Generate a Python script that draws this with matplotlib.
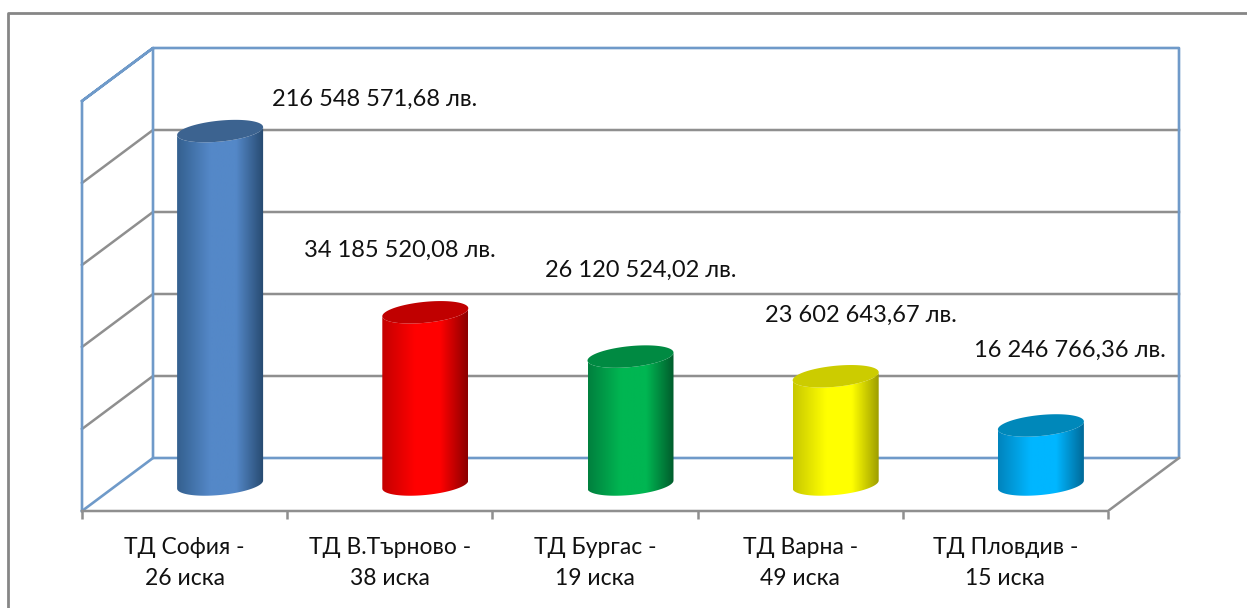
"""Cylinder chart of claims per territorial directorate, drawn on a plain 2D axes."""
import matplotlib
matplotlib.use("Agg")
import matplotlib.pyplot as plt
import numpy as np
from matplotlib.colors import LinearSegmentedColormap
from matplotlib.patches import Polygon

plt.rcParams["font.family"] = ["Lato", "Open Sans", "DejaVu Sans"]

categories = ["ТД София -\n26 иска", "ТД В.Търново -\n38 иска", "ТД Бургас -\n19 иска",
              "ТД Варна -\n49 иска", "ТД Пловдив -\n15 иска"]
amounts = [216548571.68, 34185520.08, 26120524.02, 23602643.67, 16246766.36]
# the drawn heights are not proportional to the amounts, read in gridline units
heights = [4.31, 2.10, 1.56, 1.32, 0.72]
gridlines = [1, 2, 3, 4]

W, H = 1247, 608
PX_X = 205.2  # pixels per category
PX_Y = 82.0   # pixels per gridline
WALL = "#6f9ac9"
GRID = "#8f8f8f"
FRAME = "#868686"
TEXT = "#111111"

mids = ["#5488c8", "#ff0000", "#00b652", "#ffff00", "#00b6ff"]
edges_l = ["#34608f", "#c40000", "#00803e", "#c8c800", "#0084bd"]
edges_r = ["#274a70", "#8c0000", "#005c2c", "#9a9a00", "#006a99"]
tops = ["#3c6390", "#c00000", "#008a42", "#cccc00", "#0088ba"]

# label offset from the top of each bar, pixels
label_dx = [155, -25, 10, 25, 29]
label_dy = [32, 62, 86, 61, 75]

# depth of the box, in data units
DX = 71 / PX_X
DY = 53 / PX_Y
HALF_W = 43 / PX_X
ELL_B = 10.5 / PX_Y
ELL_TILT = 4 / PX_Y


def fmt_amount(v):
    return f"{v:,.2f}".replace(",", " ").replace(".", ",") + " лв."


def draw_cylinder(ax, xc, y0, y1, mid, left, right, top):
    t = np.linspace(0, np.pi, 60)
    # lower half of the base ellipse, then back along the top edge
    bx = xc - HALF_W * np.cos(t)
    by = y0 - ELL_TILT * np.cos(t) - ELL_B * np.sin(t)
    tx = xc + HALF_W * np.cos(t)
    ty = y1 + ELL_TILT * np.cos(t) - ELL_B * np.sin(t)
    body = Polygon(np.column_stack([np.r_[bx, tx], np.r_[by, ty]]),
                   closed=True, fc="none", ec="none", transform=ax.transData)
    ax.add_patch(body)
    cmap = LinearSegmentedColormap.from_list(
        "cyl", [(0, left), (0.38, mid), (0.68, mid), (1, right)])
    im = ax.imshow(np.linspace(0, 1, 128)[None, :], cmap=cmap, aspect="auto", zorder=3,
                   extent=(xc - HALF_W, xc + HALF_W, y0 - 2 * ELL_B, y1 + 2 * ELL_B),
                   interpolation="bilinear")
    im.set_clip_path(body)
    a = np.linspace(0, 2 * np.pi, 120)
    ax.fill(xc - HALF_W * np.cos(a), y1 - ELL_TILT * np.cos(a) + ELL_B * np.sin(a),
            color=top, lw=0, zorder=4)


fig = plt.figure(figsize=(W / 100, H / 100), dpi=100)
ax = fig.add_axes([0, 0, 1, 1])
ax.axis("off")

n = len(categories)
top = len(gridlines) + 1

# outer frame, open on the right
ax.plot([-74 / PX_X, -74 / PX_X, (W - 82) / PX_X],
        [(458 - H) / PX_Y, (458 - 13) / PX_Y, (458 - 13) / PX_Y],
        color=FRAME, lw=2, zorder=1)

# gridlines on the back and side wall
for g in gridlines:
    ax.plot([0, DX, n + DX], [g - DY, g, g], color=GRID, lw=1.8, zorder=1)

# walls
ax.plot([0, 0, DX, n + DX, n + DX, DX, DX, 0],
        [-DY, top - DY, top, top, 0, 0, top, top - DY], color=WALL, lw=1.9, zorder=2)
ax.plot([0, DX], [-DY, 0], color=WALL, lw=1.9, zorder=2)

# floor edge and ticks
ax.plot([0, n, n + DX], [-DY, -DY, 0], color=GRID, lw=1.8, zorder=2)
ax.vlines(np.arange(n + 1), -DY - 8 / PX_Y, -DY, color=GRID, lw=1.8, zorder=2)

for i, h in enumerate(heights):
    xc = i + 0.5 + DX / 2
    y0 = -DY / 2
    y1 = y0 + h
    draw_cylinder(ax, xc, y0, y1, mids[i], edges_l[i], edges_r[i], tops[i])
    ax.text(xc + label_dx[i] / PX_X, y1 + label_dy[i] / PX_Y, fmt_amount(amounts[i]),
            ha="center", va="center", fontsize=17, color=TEXT, zorder=5)
    ax.text(i + 0.5, -DY - 52 / PX_Y, categories[i], ha="center", va="center",
            fontsize=16.5, color=TEXT, linespacing=1.6)

ax.set_xlim(-82 / PX_X, (W - 82) / PX_X)
ax.set_ylim((458 - H) / PX_Y, 458 / PX_Y)

fig.savefig("out.png", dpi=100, facecolor="white")
